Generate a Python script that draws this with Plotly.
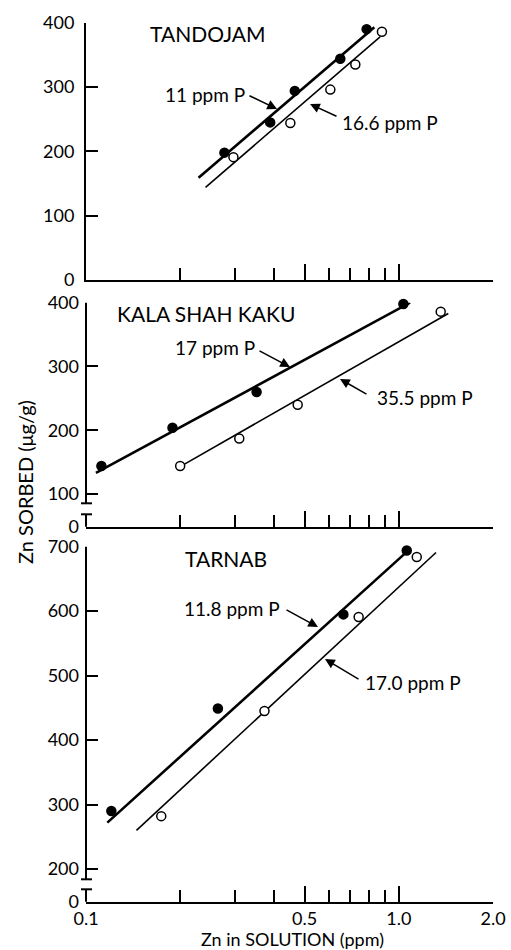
import math
import plotly.graph_objects as go

# ---------------- data ----------------
# Panel 1: TANDOJAM
tan_x_11 = [0.277, 0.388, 0.465, 0.650, 0.789]
tan_y_11 = [198, 245, 294, 344, 390]
tan_x_166 = [0.296, 0.450, 0.604, 0.726, 0.883]
tan_y_166 = [191, 244, 296, 335, 386]
tan_fit_x_11 = [0.229, 0.835]
tan_fit_y_11 = [159, 393]
tan_fit_x_166 = [0.241, 0.871]
tan_fit_y_166 = [144, 378]

# Panel 2: KALA SHAH KAKU
kal_x_17 = [0.112, 0.189, 0.351, 1.034]
kal_y_17 = [144, 204, 260, 398]
kal_x_355 = [0.200, 0.309, 0.475, 1.361]
kal_y_355 = [144, 187, 240, 386]
kal_fit_x_17 = [0.1076, 1.086]
kal_fit_y_17 = [133, 400]
kal_fit_x_355 = [0.200, 1.439]
kal_fit_y_355 = [143, 383]

# Panel 3: TARNAB
tar_x_118 = [0.1205, 0.264, 0.665, 1.060]
tar_y_118 = [290, 449, 595, 694]
tar_x_170 = [0.174, 0.372, 0.744, 1.141]
tar_y_170 = [282, 445, 591, 684]
tar_fit_x_118 = [0.117, 1.06]
tar_fit_y_118 = [272, 692]
tar_fit_x_170 = [0.145, 1.315]
tar_fit_y_170 = [260, 691]

x_major_ticks = [0.1, 0.5, 1.0, 2.0]
x_major_labels = ["0.1", "0.5", "1.0", "2.0"]
x_minor_ticks = [0.2, 0.3, 0.4, 0.6, 0.7, 0.8, 0.9]

y1_ticks = [0, 100, 200, 300, 400]
y1_labels = ["0", "100", "200", "300", "400"]
y2_ticks = [48.7, 100, 200, 300, 400]
y2_labels = ["0", "100", "200", "300", "400"]
y3_ticks = [149.3, 200, 300, 400, 500, 600, 700]
y3_labels = ["0", "200", "300", "400", "500", "600", "700"]

# ---------------- layout helpers ----------------
W, H = 511, 950
FONT = "Lato"


def px(x):
    return x / W


def py(y):
    return 1 - y / H


X0, X1 = 86, 493
panels = [
    # (top px, bottom px, y range)
    (22.7, 280.0, [0, 400]),
    (302.7, 526.7, [48.7, 400]),
    (546.7, 901.7, [149.3, 700]),
]

fig = go.Figure()

series = [
    (1, tan_fit_x_11, tan_fit_y_11, tan_x_11, tan_y_11, True),
    (1, tan_fit_x_166, tan_fit_y_166, tan_x_166, tan_y_166, False),
    (2, kal_fit_x_17, kal_fit_y_17, kal_x_17, kal_y_17, True),
    (2, kal_fit_x_355, kal_fit_y_355, kal_x_355, kal_y_355, False),
    (3, tar_fit_x_118, tar_fit_y_118, tar_x_118, tar_y_118, True),
    (3, tar_fit_x_170, tar_fit_y_170, tar_x_170, tar_y_170, False),
]

for k, fx, fy, dx, dy, filled in series:
    xa = "x" if k == 1 else f"x{k}"
    ya = "y" if k == 1 else f"y{k}"
    fig.add_trace(go.Scatter(
        x=fx, y=fy, mode="lines", xaxis=xa, yaxis=ya,
        line=dict(color="black", width=2.6 if filled else 1.6),
        showlegend=False, hoverinfo="skip", cliponaxis=False))
    fig.add_trace(go.Scatter(
        x=dx, y=dy, mode="markers", xaxis=xa, yaxis=ya,
        marker=dict(symbol="circle", size=9,
                    color="black" if filled else "white",
                    line=dict(color="black", width=1.5)),
        showlegend=False, hoverinfo="skip", cliponaxis=False))

ytick_sets = [(y1_ticks, y1_labels), (y2_ticks, y2_labels), (y3_ticks, y3_labels)]

layout = dict(
    width=W, height=H,
    autosize=False,
    margin=dict(l=0, r=0, t=0, b=0, pad=0, autoexpand=False),
    paper_bgcolor="white", plot_bgcolor="white",
    font=dict(family=FONT, color="black", size=18),
    showlegend=False,
)

for i, (top, bot, yr) in enumerate(panels):
    k = i + 1
    xkey = "xaxis" if k == 1 else f"xaxis{k}"
    ykey = "yaxis" if k == 1 else f"yaxis{k}"
    yanchor = "y" if k == 1 else f"y{k}"
    xanchor = "x" if k == 1 else f"x{k}"
    last = (k == 3)
    layout[xkey] = dict(
        type="log", range=[math.log10(0.1), math.log10(2.0)],
        domain=[px(X0), px(X1)], anchor=yanchor, automargin=False,
        showline=True, linecolor="black", linewidth=2,
        showgrid=False, zeroline=False,
        ticks="inside", ticklen=16, tickwidth=1.6, tickcolor="black",
        tickvals=x_major_ticks,
        ticktext=x_major_labels if last else [""] * len(x_major_ticks),
        showticklabels=last,
        tickfont=dict(family=FONT, size=18),
        ticklabelstandoff=0,
        minor=dict(tickvals=x_minor_ticks, ticks="inside", ticklen=12,
                   tickwidth=1.6, tickcolor="black", showgrid=False),
    )
    tv, tt = ytick_sets[i]
    layout[ykey] = dict(
        range=yr, domain=[py(bot), py(top)], anchor=xanchor, automargin=False,
        showline=(k == 1), linecolor="black", linewidth=2,
        showgrid=False, zeroline=False,
        ticks="inside", ticklen=12, tickwidth=1.6, tickcolor="black",
        tickvals=tv, ticktext=tt,
        tickfont=dict(family=FONT, size=18),
        ticklabelstandoff=6,
    )

fig.update_layout(**layout)

# broken y axes for panels 2 and 3
shapes = []


def seg(x0, y0, x1, y1, w=2):
    shapes.append(dict(type="line", xref="paper", yref="paper",
                       x0=px(x0), y0=py(y0), x1=px(x1), y1=py(y1),
                       line=dict(color="black", width=w)))


for top, brk1, brk2, bot in [(302.7, 503.3, 514.3, 526.7), (546.7, 879.3, 889.3, 901.7)]:
    seg(X0, top, X0, brk1)
    seg(X0 - 5, brk1, X0 + 6, brk1)
    seg(X0 - 5, brk2, X0 + 6, brk2)
    seg(X0, brk2, X0, bot)

fig.update_layout(shapes=shapes)

ann = []


def text(x, y, s, anchor="left", size=19):
    ann.append(dict(x=px(x), y=py(y), xref="paper", yref="paper", text=s,
                    showarrow=False, xanchor=anchor, yanchor="middle",
                    font=dict(family=FONT, size=size, color="black")))


def arrow(tail, tip):
    ann.append(dict(x=px(tip[0]), y=py(tip[1]), xref="paper", yref="paper",
                    ax=tail[0] - tip[0], ay=tail[1] - tip[1], text=" ",
                    font=dict(size=1), showarrow=True, arrowhead=2,
                    arrowsize=1.3, arrowwidth=1.5, arrowcolor="black",
                    standoff=0, startstandoff=0))


# panel titles
text(148, 33, "TANDOJAM", size=21)
text(115, 313, "KALA SHAH KAKU", size=21)
text(183, 558, "TARNAB", size=21)

# series labels
text(247, 94, "11 ppm P", anchor="right")
arrow((248, 95), (277, 109))
text(340, 123, "16.6 ppm P")
arrow((338, 117), (310, 104))

text(257, 347, "17 ppm P", anchor="right")
arrow((258, 350), (290, 367))
text(375, 397, "35.5 ppm P")
arrow((368, 395), (340, 379))

text(282, 608, "11.8 ppm P", anchor="right")
arrow((285, 609), (318, 627))
text(363, 682, "17.0 ppm P")
arrow((360, 680), (325, 659))

# axis titles
ann.append(dict(x=px(292), y=py(939), xref="paper", yref="paper",
                text="Zn in SOLUTION (ppm)", showarrow=False,
                xanchor="center", yanchor="middle",
                font=dict(family=FONT, size=18, color="black")))
ann.append(dict(x=px(25), y=py(482), xref="paper", yref="paper",
                text="Zn SORBED (μg/g)", showarrow=False, textangle=-90,
                xanchor="center", yanchor="middle",
                font=dict(family=FONT, size=20, color="black")))

fig.update_layout(annotations=ann)

fig.write_html("out.html")
